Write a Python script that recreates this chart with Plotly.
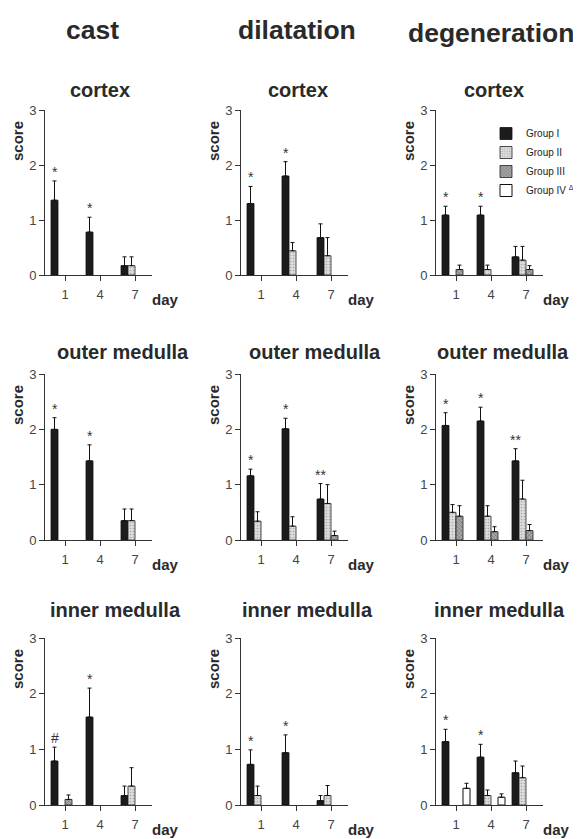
import plotly.graph_objects as go

# ---------------- data ----------------
days = ["1", "4", "7"]
groups = ["Group I", "Group II", "Group III", "Group IV <sup>Δ</sup>"]
columns = ["cast", "dilatation", "degeneration"]
regions = ["cortex", "outer medulla", "inner medulla"]

# mean scores per group (rows: Group I..IV, cols: day 1, 4, 7); None = no bar
cast_cortex_mean = [[1.36, 0.78, 0.17], [None, None, 0.17], [None, None, None], [None, None, None]]
cast_cortex_err = [[0.35, 0.27, 0.16], [None, None, 0.16], [None, None, None], [None, None, None]]
cast_cortex_sig = ["*", "*", ""]

cast_outer_mean = [[2.00, 1.43, 0.35], [None, None, 0.35], [None, None, None], [None, None, None]]
cast_outer_err = [[0.21, 0.29, 0.21], [None, None, 0.21], [None, None, None], [None, None, None]]
cast_outer_sig = ["*", "*", ""]

cast_inner_mean = [[0.79, 1.58, 0.17], [None, None, 0.34], [0.10, None, None], [None, None, None]]
cast_inner_err = [[0.25, 0.52, 0.17], [None, None, 0.33], [0.08, None, None], [None, None, None]]
cast_inner_sig = ["#", "*", ""]

dil_cortex_mean = [[1.30, 1.80, 0.68], [None, 0.44, 0.35], [None, None, None], [None, None, None]]
dil_cortex_err = [[0.31, 0.26, 0.25], [None, 0.15, 0.33], [None, None, None], [None, None, None]]
dil_cortex_sig = ["*", "*", ""]

dil_outer_mean = [[1.16, 2.01, 0.74], [0.34, 0.25, 0.66], [None, None, 0.08], [None, None, None]]
dil_outer_err = [[0.12, 0.19, 0.28], [0.17, 0.17, 0.34], [None, None, 0.08], [None, None, None]]
dil_outer_sig = ["*", "*", "**"]

dil_inner_mean = [[0.73, 0.94, 0.08], [0.17, None, 0.17], [None, None, None], [None, None, None]]
dil_inner_err = [[0.26, 0.32, 0.09], [0.17, None, 0.18], [None, None, None], [None, None, None]]
dil_inner_sig = ["*", "*", ""]

deg_cortex_mean = [[1.09, 1.09, 0.33], [None, 0.10, 0.27], [0.10, None, 0.10], [None, None, None]]
deg_cortex_err = [[0.16, 0.16, 0.19], [None, 0.08, 0.25], [0.08, None, 0.07], [None, None, None]]
deg_cortex_sig = ["*", "*", ""]

deg_outer_mean = [[2.07, 2.15, 1.43], [0.50, 0.43, 0.74], [0.43, 0.15, 0.17], [None, None, None]]
deg_outer_err = [[0.23, 0.25, 0.22], [0.14, 0.19, 0.34], [0.19, 0.09, 0.11], [None, None, None]]
deg_outer_sig = ["*", "*", "**"]

deg_inner_mean = [[1.14, 0.86, 0.58], [None, 0.17, 0.49], [None, None, None], [0.30, 0.14, None]]
deg_inner_err = [[0.22, 0.23, 0.21], [None, 0.10, 0.21], [None, None, None], [0.09, 0.06, None]]
deg_inner_sig = ["*", "*", ""]

panels = [
    [(cast_cortex_mean, cast_cortex_err, cast_cortex_sig),
     (dil_cortex_mean, dil_cortex_err, dil_cortex_sig),
     (deg_cortex_mean, deg_cortex_err, deg_cortex_sig)],
    [(cast_outer_mean, cast_outer_err, cast_outer_sig),
     (dil_outer_mean, dil_outer_err, dil_outer_sig),
     (deg_outer_mean, deg_outer_err, deg_outer_sig)],
    [(cast_inner_mean, cast_inner_err, cast_inner_sig),
     (dil_inner_mean, dil_inner_err, dil_inner_sig),
     (deg_inner_mean, deg_inner_err, deg_inner_sig)],
]

# ---------------- layout constants (page pixels) ----------------
PAGE_W, PAGE_H = 581, 839
OFF = 8                      # default page body margin
W, H = PAGE_W - OFF, PAGE_H - OFF
col_x0 = [45, 241, 436]
axis_w = 107
row_top = [110, 374, 638]
row_bot = [275, 540, 805]
title_y = [90, 352, 610]
title_x = [[100, 298, 494], [123, 315, 503], [115, 307, 499]]
header_xy = [(92, 30), (297, 30), (491, 33)]

FONT = "Liberation Sans, Arial, Helvetica, sans-serif"
TXT = "#2a2a2a"


def px(x):
    return (x - OFF) / W


def py(y):
    return 1 - (y - OFF) / H


styles = [
    dict(color="#1c1c1c", line=dict(color="#111", width=0.8)),
    dict(color="#d9d9d9", line=dict(color="#222", width=0.8),
         pattern=dict(shape=".", fgcolor="#777", bgcolor="#dddddd", size=3, solidity=0.25)),
    dict(color="#8a8a8a", line=dict(color="#222", width=0.8),
         pattern=dict(shape="x", fgcolor="#2a2a2a", bgcolor="#a8a8a8", size=3, solidity=0.3)),
    dict(color="#ffffff", line=dict(color="#111", width=1)),
]

x_idx = [0, 1, 2]
fig = go.Figure()
annotations = []
layout_axes = {}

for r in range(3):
    for c in range(3):
        k = r * 3 + c + 1
        xa = "x" if k == 1 else f"x{k}"
        ya = "y" if k == 1 else f"y{k}"
        mean, err, sig = panels[r][c]
        for g in range(4):
            fig.add_trace(go.Bar(
                x=x_idx, y=mean[g], name=groups[g], xaxis=xa, yaxis=ya,
                marker=styles[g], legendgroup=groups[g],
                showlegend=(k == 3),
                error_y=dict(type="data", symmetric=False, array=err[g],
                             arrayminus=[0 if v is not None else None for v in err[g]],
                             color="#111", thickness=1, width=2),
            ))
        # significance marks above Group I
        for d in range(3):
            if sig[d]:
                annotations.append(dict(
                    x=x_idx[d] - 0.3, y=mean[0][d] + err[0][d], xref=xa, yref=ya,
                    text=sig[d], showarrow=False, yanchor="bottom", yshift=-1,
                    font=dict(family=FONT, size=14, color="#333")))
        x0 = col_x0[c]
        layout_axes["xaxis" if k == 1 else f"xaxis{k}"] = dict(
            domain=[px(x0), px(x0 + axis_w)], anchor=ya, range=[-20 / 35, (axis_w - 20) / 35],
            tickvals=x_idx, ticktext=days, ticks="outside", ticklen=5, tickcolor="#333",
            showline=True, linecolor="#333", linewidth=1, showgrid=False, zeroline=False,
            automargin=False, ticklabelstandoff=2,
            tickfont=dict(family=FONT, size=13, color="#444"))
        layout_axes["yaxis" if k == 1 else f"yaxis{k}"] = dict(
            domain=[py(row_bot[r]), py(row_top[r])], anchor=xa, range=[0, 3],
            tickvals=[0, 1, 2, 3], ticks="outside", ticklen=5, tickcolor="#333",
            showline=True, linecolor="#333", linewidth=1, showgrid=False, zeroline=False,
            automargin=False,
            tickfont=dict(family=FONT, size=13, color="#444"))
        # region title
        annotations.append(dict(x=px(title_x[r][c]), y=py(title_y[r]), xref="paper", yref="paper",
                                text=f"<b>{regions[r]}</b>", showarrow=False,
                                xanchor="center", yanchor="middle",
                                font=dict(family=FONT, size=20, color=TXT)))
        # score label
        annotations.append(dict(x=px(x0 - 28), y=py(row_top[r] + 31), xref="paper", yref="paper",
                                text="<b>score</b>", showarrow=False, textangle=-90,
                                xanchor="center", yanchor="middle",
                                font=dict(family=FONT, size=15, color=TXT)))
        # day label
        annotations.append(dict(x=px(x0 + axis_w - 2), y=py(row_bot[r] + 24), xref="paper", yref="paper",
                                text="<b>day</b>", showarrow=False,
                                xanchor="left", yanchor="middle",
                                font=dict(family=FONT, size=15, color=TXT)))

for c in range(3):
    hx, hy = header_xy[c]
    annotations.append(dict(x=px(hx), y=py(hy), xref="paper", yref="paper",
                            text=f"<b>{columns[c]}</b>", showarrow=False,
                            xanchor="center", yanchor="middle",
                            font=dict(family=FONT, size=26.5, color=TXT)))

fig.update_layout(
    width=W, height=H, margin=dict(l=0, r=0, t=0, b=0, autoexpand=False),
    paper_bgcolor="white", plot_bgcolor="white",
    barmode="group", bargap=0.2, bargroupgap=0,
    font=dict(family=FONT, color=TXT),
    annotations=annotations,
    legend=dict(x=px(486), y=py(119), xanchor="left", yanchor="top",
                font=dict(family="Liberation Sans Narrow, Liberation Sans, Arial", size=10, color="#222"),
                bgcolor="rgba(0,0,0,0)", tracegroupgap=0, itemwidth=30),
    **layout_axes,
)

fig.write_html("out.html")
